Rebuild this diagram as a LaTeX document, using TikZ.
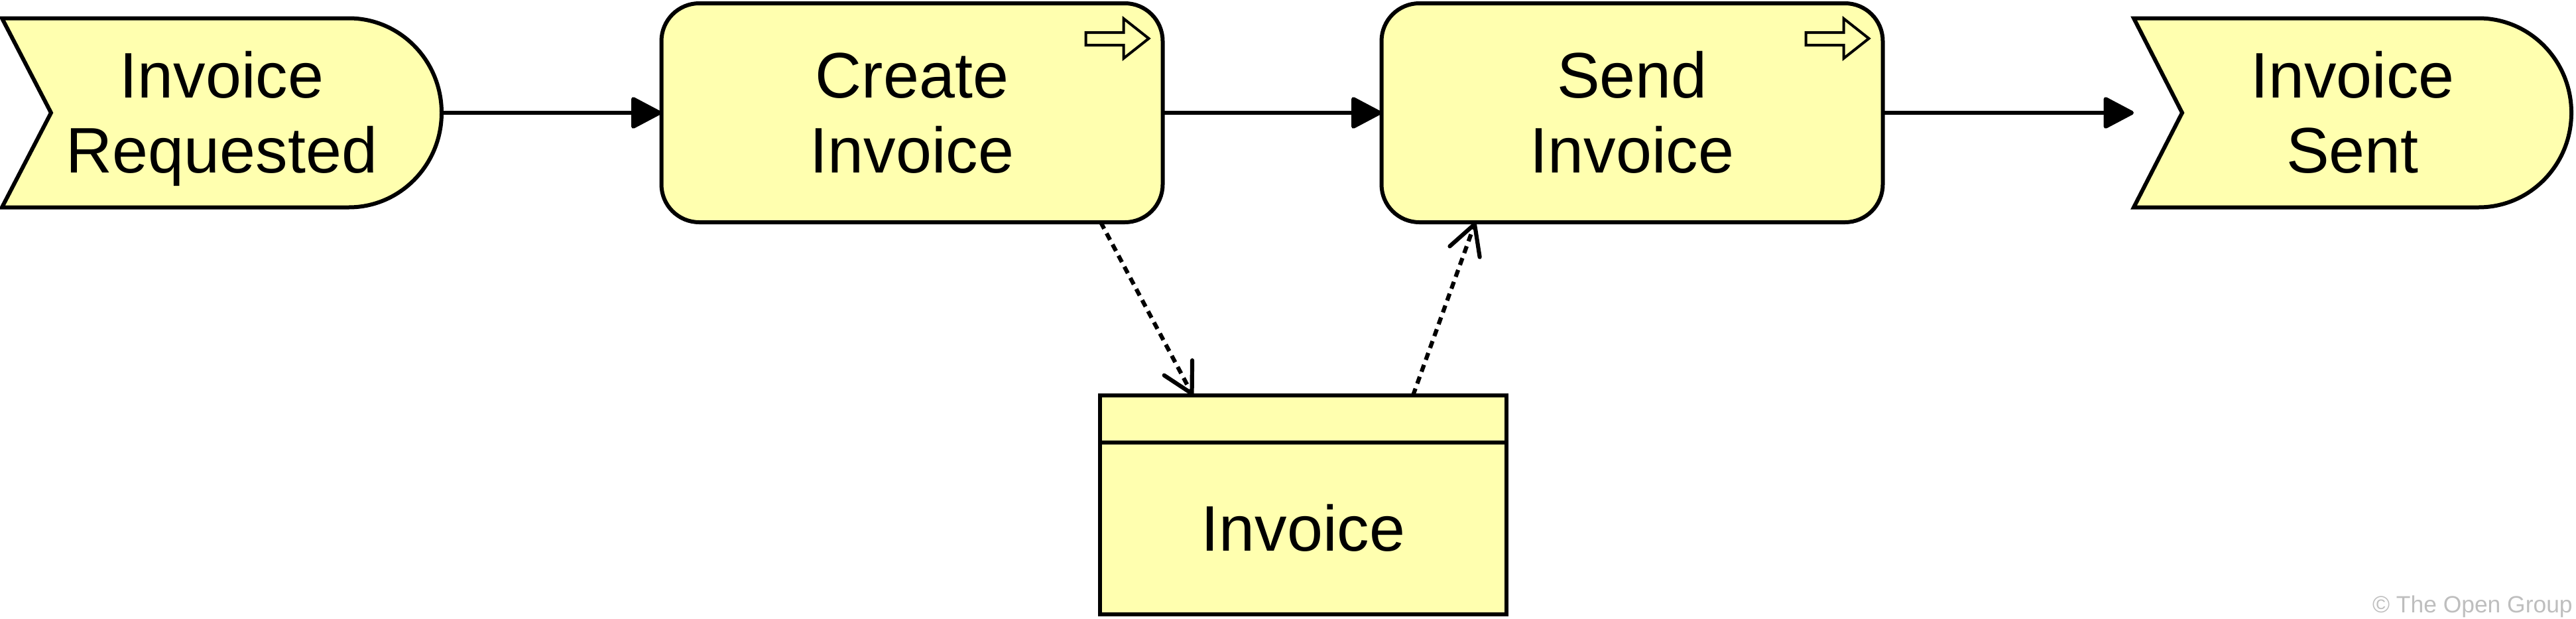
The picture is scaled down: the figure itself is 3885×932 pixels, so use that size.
\documentclass[tikz,border=0pt]{standalone}
\usepackage{fontspec}
\setmainfont{Liberation Sans}
\usetikzlibrary{arrows.meta,calc}
\definecolor{bizfill}{RGB}{255,255,175}
\definecolor{copygray}{RGB}{190,190,190}
\newcommand\vcbox[2]{\raisebox{0pt}[#1][0pt]{#2}}
\newcommand\twolines[2]{\begin{tabular}[b]{@{}c@{}}#1\\#2\end{tabular}}
\begin{document}
\begin{tikzpicture}[x=0.5pt,y=-0.5pt,
  lbl/.style={font=\fontsize{48.5pt}{56.5pt}\selectfont, inner sep=0pt, outer sep=0pt, align=center},
  proc/.style={lbl, draw, fill=bizfill, line width=3pt, rounded corners=28.5pt, minimum width=378pt, minimum height=165pt},
  evtext/.style={lbl, minimum height=142.5pt},
  evshape/.style={draw, fill=bizfill, line width=3pt, line join=miter},
  dataobj/.style={lbl, draw, fill=bizfill, line width=3pt, minimum width=306.5pt, minimum height=165pt},
  flow/.style={line width=3pt, -{Triangle[length=24.5pt,width=25pt,round]}},
  access/.style={line width=3.1pt, dash pattern=on 5.5pt off 4pt, -{Straight Barb[length=22pt,width=24pt,round]}},
  procicon/.pic={\draw[line width=2pt, fill=bizfill, line join=miter]
     (-58pt,-22pt) -- ++(28.5pt,0pt) -- ++(0pt,10.5pt) -- ++(19pt,-15pt)
     -- ++(-19pt,-15pt) -- ++(0pt,10pt) -- ++(-28.5pt,0pt) -- cycle;}
]
\useasboundingbox (0,0) rectangle (3885,932);

% events
\path[evshape] (3,27.5) -- (526,27.5) .. controls (603.3,27.5) and (666,91.3) .. (666,170)
   .. controls (666,248.7) and (603.3,312.5) .. (526,312.5) -- (3,312.5) -- (77,170) -- cycle;
\node[evtext, minimum width=331.5pt] (ev1) at (334.5,170) {\vcbox{90pt}{\twolines{Invoice}{Requested}}};

\path[evshape] (3218,27.5) -- (3738,27.5) .. controls (3815.3,27.5) and (3878,91.3) .. (3878,170)
   .. controls (3878,248.7) and (3815.3,312.5) .. (3738,312.5) -- (3218,312.5) -- (3291,170) -- cycle;
\node[evtext, minimum width=330pt] (ev2) at (3548,170) {\vcbox{90pt}{\twolines{Invoice}{Sent}}};

% processes
\node[proc] (create) at (1375.5,170) {\vcbox{90pt}{\twolines{Create}{Invoice}}};
\node[proc] (send) at (2461.5,170) {\vcbox{90pt}{\twolines{Send}{Invoice}}};
\pic at (create.north east) {procicon};
\pic at (send.north east) {procicon};

% data object
\node[dataobj] (data) at (1965.5,761) {\vcbox{69pt}{Invoice}};
\draw[line width=3pt] ([yshift=-35.5pt]data.north west) -- ([yshift=-35.5pt]data.north east);

% connectors
\draw[flow] (ev1.east) -- (create.west);
\draw[flow] (create.east) -- (send.west);
\draw[flow] (send.east) -- (ev2.west);
\draw[access] ([xshift=142.25pt]create.south) -- ([xshift=-83.25pt]data.north);
\draw[access] ([xshift=82.75pt]data.north) -- ([xshift=-118.25pt]send.south);

% copyright
\node[font=\fontsize{17.7pt}{20pt}\selectfont, text=copygray, anchor=base east, inner sep=0pt] (copyr) at (3880,923) {© The Open Group};
\end{tikzpicture}
\end{document}
